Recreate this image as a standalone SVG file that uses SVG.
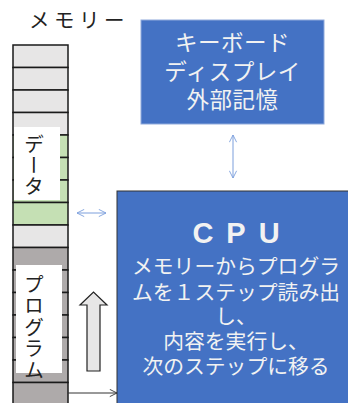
<svg xmlns="http://www.w3.org/2000/svg" width="348" height="403" viewBox="0 0 348 403">
<style>
.jp{font-family:"Noto Sans CJK JP","Noto Sans",sans-serif}
.row{stroke:#1a1a1a;stroke-width:1.5}
.g{fill:#e7e6e6}.gr{fill:#c5e0b4}.d{fill:#aeaaaa}
.blue{fill:#4472c4}
.wt{fill:#f2f2f2;text-anchor:middle}
.lbl{fill:#ffffff}
.vt{writing-mode:vertical-rl;font-size:20px;fill:#222}
.ba{stroke:#7c9fdc;stroke-width:1;fill:none}
</style>
<defs>
<marker id="ab" viewBox="0 0 10 10" refX="9" refY="5" markerWidth="9" markerHeight="9" markerUnits="userSpaceOnUse" orient="auto-start-reverse">
<path d="M1,1 L9,5 L1,9" fill="none" stroke="#7c9fdc" stroke-width="1"/>
</marker>
<marker id="ak" viewBox="0 0 10 10" refX="9" refY="5" markerWidth="9" markerHeight="9" markerUnits="userSpaceOnUse" orient="auto">
<path d="M1,1 L9,5 L1,9" fill="none" stroke="#333" stroke-width="1"/>
</marker>
</defs>
<rect width="348" height="403" fill="#ffffff"/>
<text class="jp" x="29" y="28" font-size="20.5" letter-spacing="4.5" fill="#222">メモリー</text>
<g id="memory">
<rect class="row g" x="13" y="45" width="55" height="22.5"/>
<rect class="row g" x="13" y="67.5" width="55" height="22.5"/>
<rect class="row g" x="13" y="90" width="55" height="22.5"/>
<rect class="row g" x="13" y="112.5" width="55" height="22.5"/>
<rect class="row gr" x="13" y="135" width="55" height="22.5"/>
<rect class="row gr" x="13" y="157.5" width="55" height="22.5"/>
<rect class="row gr" x="13" y="180" width="55" height="22.5"/>
<rect class="row gr" x="13" y="202.5" width="55" height="22.5"/>
<rect class="row g" x="13" y="225" width="55" height="22.5"/>
<rect class="row d" x="13" y="247.5" width="55" height="22.5"/>
<rect class="row d" x="13" y="270" width="55" height="22.5"/>
<rect class="row d" x="13" y="292.5" width="55" height="22.5"/>
<rect class="row d" x="13" y="315" width="55" height="22.5"/>
<rect class="row d" x="13" y="337.5" width="55" height="22.5"/>
<rect class="row d" x="13" y="360" width="55" height="22.5"/>
<rect class="row d" x="13" y="382.5" width="55" height="22.5"/>
</g>
<g id="data-label">
<rect class="lbl" x="14" y="127" width="46" height="73"/>
<text class="jp vt" x="34" y="134" letter-spacing="1">データ</text>
</g>
<g id="program-label">
<rect class="lbl" x="16" y="265" width="46" height="108"/>
<text class="jp vt" x="34" y="274" letter-spacing="1.6">プログラム</text>
</g>
<g id="io">
<rect class="blue" x="141" y="20" width="183" height="104" stroke="#8faadc" stroke-width="1"/>
<text class="jp wt" font-size="22.5" letter-spacing="0.5"><tspan x="232.5" y="51">キーボード</tspan><tspan x="232.5" y="79.5">ディスプレイ</tspan><tspan x="232.5" y="108">外部記憶</tspan></text>
</g>
<g id="cpu">
<rect class="blue" x="117" y="191" width="240" height="220" stroke="#333" stroke-width="1"/>
<text class="wt" font-family="'Liberation Sans',Arial,sans-serif" font-weight="bold" font-size="29" letter-spacing="13" x="242.5" y="243">CPU</text>
<text class="jp wt" font-size="20.8"><tspan x="236" y="274">メモリーからプログラ</tspan><tspan x="236" y="299.5">ムを１ステップ読み出</tspan><tspan x="236" y="324">し、</tspan><tspan x="236" y="348.5">内容を実行し、</tspan><tspan x="236" y="374">次のステップに移る</tspan></text>
</g>
<g id="step-arrow">
<path d="M87,371 L87,305 L80,305 L93.5,292 L107,305 L100,305 L100,371 Z" fill="#e7e6e6" stroke="#222" stroke-width="1.2"/>
</g>
<g id="connectors">
<line class="ba" x1="233" y1="135" x2="233" y2="178" marker-start="url(#ab)" marker-end="url(#ab)"/>
<line class="ba" x1="77" y1="213" x2="106" y2="213" marker-start="url(#ab)" marker-end="url(#ab)"/>
<line x1="68" y1="393" x2="117" y2="393" stroke="#333" stroke-width="1" marker-end="url(#ak)"/>
</g>
</svg>
